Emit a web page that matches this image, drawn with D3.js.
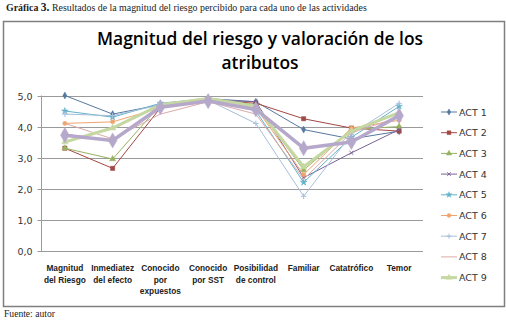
<!DOCTYPE html>
<html><head><meta charset="utf-8">
<script src="https://cdn.jsdelivr.net/npm/d3@7"></script>
<style>body{margin:0;background:#fff}svg{display:block}</style>
</head><body>
<script>
const categories = [["Magnitud","del Riesgo"],["Inmediatez","del efecto"],["Conocido","por","expuestos"],["Conocido","por SST"],["Posibilidad","de control"],["Familiar"],["Catatrófico"],["Temor"]];
const yTicks = [0,1,2,3,4,5];
const seriesNames = ["ACT 1","ACT 2","ACT 3","ACT 4","ACT 5","ACT 6","ACT 7","ACT 8","ACT 9","Promedio"];
const act1 = [5.0,4.4,4.7,4.9,4.8,3.9,3.6,3.85];
const act2 = [3.3,2.65,4.6,4.85,4.75,4.25,3.95,3.85];
const act3 = [3.3,2.95,4.7,4.9,4.7,2.6,3.9,4.0];
const act4 = [3.75,3.55,4.6,4.85,4.8,2.35,3.15,3.9];
const act5 = [4.5,4.3,4.75,4.9,4.5,2.2,3.65,4.65];
const act6 = [4.1,4.15,4.6,4.8,4.6,2.45,3.95,4.2];
const act7 = [4.4,4.35,4.7,4.85,4.1,1.75,3.75,4.75];
const act8 = [4.1,3.6,4.4,4.8,4.4,2.3,3.8,4.3];
const act9 = [3.5,3.95,4.7,4.9,4.65,2.7,3.85,4.45];
const promedio = [3.72,3.55,4.62,4.82,4.55,3.3,3.5,4.35];
const seriesValues = [act1,act2,act3,act4,act5,act6,act7,act8,act9,promedio];
const legendCount = 9;

const styles = [
 {c:"#56789f",w:1,m:"diamond",s:14},
 {c:"#a24845",w:1,m:"square",s:18},
 {c:"#97b260",w:1,m:"triangle",s:16},
 {c:"#7a6296",w:1,m:"x",s:12},
 {c:"#62b2c9",w:1,m:"star",s:14},
 {c:"#f0a46c",w:1,m:"circle",s:14},
 {c:"#a6bfdc",w:1,m:"plus",s:12},
 {c:"#dcaaa8",w:1,m:"none",s:0},
 {c:"#c6d8a2",w:3,m:"triangle",s:18},
 {c:"#b6a8ca",w:3.5,m:"diamond",s:66}
];

const W=506,H=323;
const svg=d3.select("body").append("svg").attr("width",W).attr("height",H);

// header
const hdr=svg.append("text").attr("x",6).attr("y",11).attr("font-family","Liberation Serif").attr("font-size",9.9).attr("fill","#222");
hdr.append("tspan").attr("font-weight","bold").text("Gráfica ");
hdr.append("tspan").attr("font-weight","bold").attr("font-size",11.5).text("3.");
hdr.append("tspan").text(" Resultados de la magnitud del riesgo percibido para cada uno de las actividades");

svg.append("text").attr("x",4).attr("y",317).attr("font-family","Liberation Serif").attr("font-size",9.6).attr("fill","#222").text("Fuente: autor");

// frame
svg.append("rect").attr("x",3.5).attr("y",21.5).attr("width",501).attr("height",285).attr("fill","#fff").attr("stroke","#7f7f7f").attr("stroke-width",1.5);

// title
const tl=["Magnitud del riesgo y valoración de los","atributos"];
tl.forEach((t,i)=>svg.append("text").attr("x",260).attr("y",45+i*23.5).attr("text-anchor","middle")
  .attr("font-family","Open Sans").attr("font-weight","600").attr("font-size",17.4).attr("fill","#000").text(t));

const x=d3.scaleBand().domain(d3.range(categories.length)).range([41,423]);
const y=d3.scaleLinear().domain([0,5]).range([250.5,95.5]);

// grid
svg.append("g").selectAll("line").data(yTicks).join("line")
 .attr("x1",41).attr("x2",423).attr("y1",d=>Math.round(y(d))+0.5).attr("y2",d=>Math.round(y(d))+0.5)
 .attr("stroke","#9a9a9a").attr("stroke-width",1);
svg.append("line").attr("x1",41.5).attr("x2",41.5).attr("y1",y(5)).attr("y2",y(0)+0.5).attr("stroke","#9a9a9a");

// y axis labels
const yAxis=d3.axisLeft(y).tickValues(yTicks).tickFormat(d=>d3.format(".1f")(d).replace(".",",")).tickSize(4).tickPadding(5);
const ga=svg.append("g").attr("transform","translate(41.5,0.5)").call(yAxis);
ga.select(".domain").remove();
ga.selectAll("line").attr("stroke","#9a9a9a");
ga.selectAll("text").attr("font-family","DejaVu Sans").attr("font-size",9.5).attr("fill","#333");

// x labels
categories.forEach((lines,i)=>{
  const t=svg.append("text").attr("text-anchor","middle").attr("font-family","Liberation Sans").attr("font-weight","bold").attr("font-size",8.3).attr("fill","#222");
  lines.forEach((l,j)=>t.append("tspan").attr("x",x(i)+x.bandwidth()/2).attr("y",271+j*11.5).text(l));
});

const symMap={diamond:d3.symbolDiamond,square:d3.symbolSquare,triangle:d3.symbolTriangle,circle:d3.symbolCircle,x:d3.symbolX||d3.symbolCross,plus:d3.symbolPlus||d3.symbolCross,star:d3.symbolStar};
const line=d3.line().x((d,i)=>x(i)+x.bandwidth()/2).y(d=>y(d));

seriesValues.forEach((vals,k)=>{
  const st=styles[k];
  const g=svg.append("g");
  g.append("path").attr("d",line(vals)).attr("fill","none").attr("stroke",st.c).attr("stroke-width",st.w).attr("stroke-linejoin","round");
  if(st.m!=="none"){
    const stroked=(st.m==="x"||st.m==="plus");
    g.selectAll("path.m").data(vals).join("path").attr("class","m")
     .attr("transform",(d,i)=>`translate(${x(i)+x.bandwidth()/2},${y(d)})`)
     .attr("d",d3.symbol().type(symMap[st.m]).size(st.s))
     .attr("fill",stroked?"none":st.c).attr("stroke",st.c).attr("stroke-width",stroked?1:0.5);
  }
});

// legend
const lg=svg.append("g");
for(let k=0;k<legendCount;k++){
  const st=styles[k], yy=112+k*20.7;
  lg.append("line").attr("x1",441).attr("x2",457).attr("y1",yy).attr("y2",yy).attr("stroke",st.c).attr("stroke-width",st.w);
  if(st.m!=="none"){
    const stroked=(st.m==="x"||st.m==="plus");
    lg.append("path").attr("transform",`translate(449,${yy})`).attr("d",d3.symbol().type(symMap[st.m]).size(st.s*0.8))
      .attr("fill",stroked?"none":st.c).attr("stroke",st.c).attr("stroke-width",stroked?1:0.5);
  }
  lg.append("text").attr("x",459).attr("y",yy+3.5).attr("font-family","DejaVu Sans").attr("font-size",9.5).attr("fill","#333").text(seriesNames[k]);
}
</script>
</body></html>
